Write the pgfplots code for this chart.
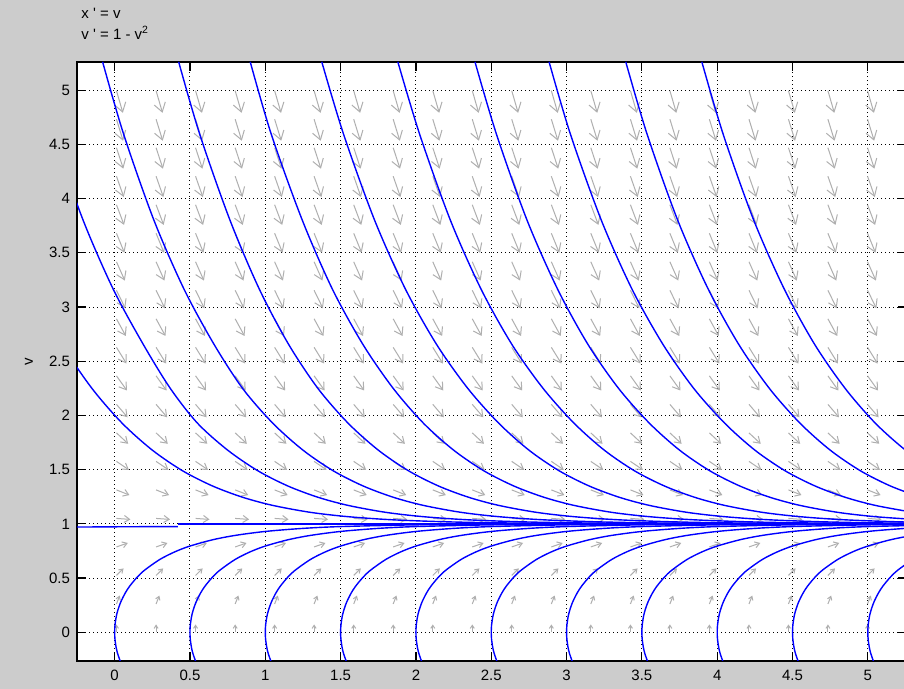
\documentclass[border=0pt]{standalone}
\usepackage{pgfplots}
\pgfplotsset{compat=1.18}
\usepackage{fontspec}
\setmainfont{Liberation Sans}
\usetikzlibrary{arrows.meta}
\definecolor{bg}{RGB}{204,204,204}
\definecolor{fieldgray}{RGB}{175,175,175}
\definecolor{solblue}{RGB}{0,0,255}
\begin{document}
\begin{tikzpicture}
\useasboundingbox (0,0) rectangle (452pt,344.5pt);
\fill[bg] (0,0) rectangle (452pt,344.5pt);
\node[anchor=base west, inner sep=0pt, font=\fontsize{7.5}{9}\selectfont] at (40.5pt,335pt) {x \textquotesingle\ = v};
\node[anchor=base west, inner sep=0pt, font=\fontsize{7.5}{9}\selectfont] at (40.5pt,324.5pt) {v \textquotesingle\ = 1 - v\textsuperscript{2}};
\begin{axis}[
  at={(38.5pt,14pt)}, anchor=south west,
  scale only axis, width=415pt, height=299.5pt,
  xmin=-0.25, xmax=5.26, ymin=-0.265, ymax=5.26,
  axis background/.style={fill=white},
  xtick={0,0.5,1,1.5,2,2.5,3,3.5,4,4.5,5},
  ytick={0,0.5,1,1.5,2,2.5,3,3.5,4,4.5,5},
  xticklabels={0,0.5,1,1.5,2,2.5,3,3.5,4,4.5,5},
  yticklabels={0,0.5,1,1.5,2,2.5,3,3.5,4,4.5,5},
  tick align=inside, major tick length=4.5pt,
  tick style={black, line width=0.6pt},
  axis line style={black, line width=0.75pt},
  grid=major,
  major grid style={black, line width=0.5pt, dash pattern=on 0.5pt off 1.5pt},
  tick label style={font=\fontsize{7.5}{9}\selectfont},
  xticklabel style={yshift=-1pt},
  ylabel={v},
  every axis y label/.style={at={(axis description cs:-0.058,0.5)}, rotate=90, anchor=center, font=\fontsize{7.5}{9}\selectfont},
  clip=true,
]
% ---------- direction field (gray arrows), one row per v level ----------
\pgfplotsset{fld/.style args={#1/#2}{fieldgray, line width=0.5pt, -{Straight Barb[length=#1pt,width=#2pt]}}}
\addplot[fld=1.52/2.0, quiver={u=0.0,v=0.0738}] coordinates {(0.012,-0.002)(0.275,-0.002)(0.537,-0.002)(0.800,-0.002)(1.062,-0.002)(1.324,-0.002)(1.587,-0.002)(1.849,-0.002)(2.112,-0.002)(2.374,-0.002)(2.636,-0.002)(2.899,-0.002)(3.161,-0.002)(3.424,-0.002)(3.686,-0.002)(3.948,-0.002)(4.211,-0.002)(4.473,-0.002)(4.735,-0.002)(4.998,-0.002)};
\addplot[fld=1.71/2.25, quiver={u=0.0217,v=0.0774}] coordinates {(0.012,0.261)(0.275,0.261)(0.537,0.261)(0.800,0.261)(1.062,0.261)(1.324,0.261)(1.587,0.261)(1.849,0.261)(2.112,0.261)(2.374,0.261)(2.636,0.261)(2.899,0.261)(3.161,0.261)(3.424,0.261)(3.686,0.261)(3.948,0.261)(4.211,0.261)(4.473,0.261)(4.735,0.261)(4.998,0.261)};
\addplot[fld=1.9/2.5, quiver={u=0.0470,v=0.0651}] coordinates {(0.012,0.524)(0.275,0.524)(0.537,0.524)(0.800,0.524)(1.062,0.524)(1.324,0.524)(1.587,0.524)(1.849,0.524)(2.112,0.524)(2.374,0.524)(2.636,0.524)(2.899,0.524)(3.161,0.524)(3.424,0.524)(3.686,0.524)(3.948,0.524)(4.211,0.524)(4.473,0.524)(4.735,0.524)(4.998,0.524)};
\addplot[fld=2.28/3.0, quiver={u=0.0752,v=0.0364}] coordinates {(0.012,0.787)(0.275,0.787)(0.537,0.787)(0.800,0.787)(1.062,0.787)(1.324,0.787)(1.587,0.787)(1.849,0.787)(2.112,0.787)(2.374,0.787)(2.636,0.787)(2.899,0.787)(3.161,0.787)(3.424,0.787)(3.686,0.787)(3.948,0.787)(4.211,0.787)(4.473,0.787)(4.735,0.787)(4.998,0.787)};
\addplot[fld=2.66/3.5, quiver={u=0.0927,v=-0.0091}] coordinates {(0.012,1.050)(0.275,1.050)(0.537,1.050)(0.800,1.050)(1.062,1.050)(1.324,1.050)(1.587,1.050)(1.849,1.050)(2.112,1.050)(2.374,1.050)(2.636,1.050)(2.899,1.050)(3.161,1.050)(3.424,1.050)(3.686,1.050)(3.948,1.050)(4.211,1.050)(4.473,1.050)(4.735,1.050)(4.998,1.050)};
\addplot[fld=2.66/3.5, quiver={u=0.0864,v=-0.0477}] coordinates {(0.012,1.313)(0.275,1.313)(0.537,1.313)(0.800,1.313)(1.062,1.313)(1.324,1.313)(1.587,1.313)(1.849,1.313)(2.112,1.313)(2.374,1.313)(2.636,1.313)(2.899,1.313)(3.161,1.313)(3.424,1.313)(3.686,1.313)(3.948,1.313)(4.211,1.313)(4.473,1.313)(4.735,1.313)(4.998,1.313)};
\addplot[fld=2.85/3.75, quiver={u=0.0824,v=-0.0776}] coordinates {(0.012,1.576)(0.275,1.576)(0.537,1.576)(0.800,1.576)(1.062,1.576)(1.324,1.576)(1.587,1.576)(1.849,1.576)(2.112,1.576)(2.374,1.576)(2.636,1.576)(2.899,1.576)(3.161,1.576)(3.424,1.576)(3.686,1.576)(3.948,1.576)(4.211,1.576)(4.473,1.576)(4.735,1.576)(4.998,1.576)};
\addplot[fld=3.04/4.0, quiver={u=0.0777,v=-0.1006}] coordinates {(0.012,1.839)(0.275,1.839)(0.537,1.839)(0.800,1.839)(1.062,1.839)(1.324,1.839)(1.587,1.839)(1.849,1.839)(2.112,1.839)(2.374,1.839)(2.636,1.839)(2.899,1.839)(3.161,1.839)(3.424,1.839)(3.686,1.839)(3.948,1.839)(4.211,1.839)(4.473,1.839)(4.735,1.839)(4.998,1.839)};
\addplot[fld=3.23/4.25, quiver={u=0.0733,v=-0.1192}] coordinates {(0.012,2.102)(0.275,2.102)(0.537,2.102)(0.800,2.102)(1.062,2.102)(1.324,2.102)(1.587,2.102)(1.849,2.102)(2.112,2.102)(2.374,2.102)(2.636,2.102)(2.899,2.102)(3.161,2.102)(3.424,2.102)(3.686,2.102)(3.948,2.102)(4.211,2.102)(4.473,2.102)(4.735,2.102)(4.998,2.102)};
\addplot[fld=3.42/4.5, quiver={u=0.0695,v=-0.1350}] coordinates {(0.012,2.365)(0.275,2.365)(0.537,2.365)(0.800,2.365)(1.062,2.365)(1.324,2.365)(1.587,2.365)(1.849,2.365)(2.112,2.365)(2.374,2.365)(2.636,2.365)(2.899,2.365)(3.161,2.365)(3.424,2.365)(3.686,2.365)(3.948,2.365)(4.211,2.365)(4.473,2.365)(4.735,2.365)(4.998,2.365)};
\addplot[fld=3.61/4.75, quiver={u=0.0663,v=-0.1491}] coordinates {(0.012,2.628)(0.275,2.628)(0.537,2.628)(0.800,2.628)(1.062,2.628)(1.324,2.628)(1.587,2.628)(1.849,2.628)(2.112,2.628)(2.374,2.628)(2.636,2.628)(2.899,2.628)(3.161,2.628)(3.424,2.628)(3.686,2.628)(3.948,2.628)(4.211,2.628)(4.473,2.628)(4.735,2.628)(4.998,2.628)};
\addplot[fld=3.7/4.9, quiver={u=0.0620,v=-0.1579}] coordinates {(0.012,2.891)(0.275,2.891)(0.537,2.891)(0.800,2.891)(1.062,2.891)(1.324,2.891)(1.587,2.891)(1.849,2.891)(2.112,2.891)(2.374,2.891)(2.636,2.891)(2.899,2.891)(3.161,2.891)(3.424,2.891)(3.686,2.891)(3.948,2.891)(4.211,2.891)(4.473,2.891)(4.735,2.891)(4.998,2.891)};
\addplot[fld=3.8/5.0, quiver={u=0.0584,v=-0.1657}] coordinates {(0.012,3.154)(0.275,3.154)(0.537,3.154)(0.800,3.154)(1.062,3.154)(1.324,3.154)(1.587,3.154)(1.849,3.154)(2.112,3.154)(2.374,3.154)(2.636,3.154)(2.899,3.154)(3.161,3.154)(3.424,3.154)(3.686,3.154)(3.948,3.154)(4.211,3.154)(4.473,3.154)(4.735,3.154)(4.998,3.154)};
\addplot[fld=3.9/5.1, quiver={u=0.0553,v=-0.1728}] coordinates {(0.012,3.417)(0.275,3.417)(0.537,3.417)(0.800,3.417)(1.062,3.417)(1.324,3.417)(1.587,3.417)(1.849,3.417)(2.112,3.417)(2.374,3.417)(2.636,3.417)(2.899,3.417)(3.161,3.417)(3.424,3.417)(3.686,3.417)(3.948,3.417)(4.211,3.417)(4.473,3.417)(4.735,3.417)(4.998,3.417)};
\addplot[fld=4.0/5.25, quiver={u=0.0526,v=-0.1794}] coordinates {(0.012,3.680)(0.275,3.680)(0.537,3.680)(0.800,3.680)(1.062,3.680)(1.324,3.680)(1.587,3.680)(1.849,3.680)(2.112,3.680)(2.374,3.680)(2.636,3.680)(2.899,3.680)(3.161,3.680)(3.424,3.680)(3.686,3.680)(3.948,3.680)(4.211,3.680)(4.473,3.680)(4.735,3.680)(4.998,3.680)};
\addplot[fld=4.1/5.4, quiver={u=0.0503,v=-0.1856}] coordinates {(0.012,3.943)(0.275,3.943)(0.537,3.943)(0.800,3.943)(1.062,3.943)(1.324,3.943)(1.587,3.943)(1.849,3.943)(2.112,3.943)(2.374,3.943)(2.636,3.943)(2.899,3.943)(3.161,3.943)(3.424,3.943)(3.686,3.943)(3.948,3.943)(4.211,3.943)(4.473,3.943)(4.735,3.943)(4.998,3.943)};
\addplot[fld=4.2/5.5, quiver={u=0.0483,v=-0.1915}] coordinates {(0.012,4.206)(0.275,4.206)(0.537,4.206)(0.800,4.206)(1.062,4.206)(1.324,4.206)(1.587,4.206)(1.849,4.206)(2.112,4.206)(2.374,4.206)(2.636,4.206)(2.899,4.206)(3.161,4.206)(3.424,4.206)(3.686,4.206)(3.948,4.206)(4.211,4.206)(4.473,4.206)(4.735,4.206)(4.998,4.206)};
\addplot[fld=4.2/5.5, quiver={u=0.0454,v=-0.1929}] coordinates {(0.012,4.469)(0.275,4.469)(0.537,4.469)(0.800,4.469)(1.062,4.469)(1.324,4.469)(1.587,4.469)(1.849,4.469)(2.112,4.469)(2.374,4.469)(2.636,4.469)(2.899,4.469)(3.161,4.469)(3.424,4.469)(3.686,4.469)(3.948,4.469)(4.211,4.469)(4.473,4.469)(4.735,4.469)(4.998,4.469)};
\addplot[fld=4.3/5.6, quiver={u=0.0439,v=-0.1984}] coordinates {(0.012,4.732)(0.275,4.732)(0.537,4.732)(0.800,4.732)(1.062,4.732)(1.324,4.732)(1.587,4.732)(1.849,4.732)(2.112,4.732)(2.374,4.732)(2.636,4.732)(2.899,4.732)(3.161,4.732)(3.424,4.732)(3.686,4.732)(3.948,4.732)(4.211,4.732)(4.473,4.732)(4.735,4.732)(4.998,4.732)};
\addplot[fld=4.4/5.75, quiver={u=0.0425,v=-0.2038}] coordinates {(0.012,4.995)(0.275,4.995)(0.537,4.995)(0.800,4.995)(1.062,4.995)(1.324,4.995)(1.587,4.995)(1.849,4.995)(2.112,4.995)(2.374,4.995)(2.636,4.995)(2.899,4.995)(3.161,4.995)(3.424,4.995)(3.686,4.995)(3.948,4.995)(4.211,4.995)(4.473,4.995)(4.735,4.995)(4.998,4.995)};
% ---------- solution curves ----------
\pgfplotsset{sol/.style={solblue, line width=0.7pt, smooth, no marks}}
% upper family (v > 1), through (0.5k, 2)
\addplot[sol] coordinates {(-1.092,5.261)(-0.95,4.592)(-0.75,3.803)(-0.55,3.166)(-0.35,2.655)(-0.15,2.248)(0.05,1.928)(0.25,1.680)(0.45,1.490)(0.65,1.349)(0.85,1.245)(1.05,1.170)(1.30,1.106)(1.55,1.066)(1.85,1.037)(2.25,1.017)(2.75,1.006)(3.55,1.001)(5.55,1.000)};
\addplot[sol] coordinates {(-0.552,5.261)(-0.41,4.592)(-0.21,3.803)(-0.01,3.166)(0.19,2.655)(0.37,2.248)(0.55,1.928)(0.75,1.680)(0.95,1.490)(1.15,1.349)(1.35,1.245)(1.55,1.170)(1.80,1.106)(2.05,1.066)(2.35,1.037)(2.75,1.017)(3.25,1.006)(4.05,1.001)(6.05,1.000)};
\addplot[sol] coordinates {(-0.080,5.261)(0.06,4.592)(0.26,3.803)(0.46,3.166)(0.66,2.655)(0.85,2.248)(1.05,1.928)(1.25,1.680)(1.45,1.490)(1.65,1.349)(1.85,1.245)(2.05,1.170)(2.30,1.106)(2.55,1.066)(2.85,1.037)(3.25,1.017)(3.75,1.006)(4.55,1.001)(6.55,1.000)};
\addplot[sol] coordinates {(0.425,5.261)(0.565,4.592)(0.765,3.803)(0.96,3.166)(1.155,2.655)(1.35,2.248)(1.55,1.928)(1.75,1.680)(1.95,1.490)(2.15,1.349)(2.35,1.245)(2.55,1.170)(2.80,1.106)(3.05,1.066)(3.35,1.037)(3.75,1.017)(4.25,1.006)(5.05,1.001)(7.05,1.000)};
\addplot[sol] coordinates {(0.900,5.261)(1.04,4.592)(1.245,3.803)(1.445,3.166)(1.648,2.655)(1.85,2.248)(2.05,1.928)(2.25,1.680)(2.45,1.490)(2.65,1.349)(2.85,1.245)(3.05,1.170)(3.30,1.106)(3.55,1.066)(3.85,1.037)(4.25,1.017)(4.75,1.006)(5.55,1.001)(7.55,1.000)};
\addplot[sol] coordinates {(1.375,5.261)(1.52,4.592)(1.725,3.803)(1.93,3.166)(2.137,2.655)(2.345,2.248)(2.55,1.928)(2.75,1.680)(2.95,1.490)(3.15,1.349)(3.35,1.245)(3.55,1.170)(3.80,1.106)(4.05,1.066)(4.35,1.037)(4.75,1.017)(5.25,1.006)(6.05,1.001)};
\addplot[sol] coordinates {(1.880,5.261)(2.025,4.592)(2.228,3.803)(2.432,3.166)(2.637,2.655)(2.845,2.248)(3.05,1.928)(3.25,1.680)(3.45,1.490)(3.65,1.349)(3.85,1.245)(4.05,1.170)(4.30,1.106)(4.55,1.066)(4.85,1.037)(5.25,1.017)(5.75,1.006)};
\addplot[sol] coordinates {(2.392,5.261)(2.535,4.592)(2.737,3.803)(2.94,3.166)(3.142,2.655)(3.346,2.248)(3.55,1.928)(3.75,1.680)(3.95,1.490)(4.15,1.349)(4.35,1.245)(4.55,1.170)(4.80,1.106)(5.05,1.066)(5.35,1.037)};
\addplot[sol] coordinates {(2.884,5.261)(3.026,4.592)(3.23,3.803)(3.434,3.166)(3.64,2.655)(3.845,2.248)(4.05,1.928)(4.25,1.680)(4.45,1.490)(4.65,1.349)(4.85,1.245)(5.05,1.170)(5.30,1.106)};
\addplot[sol] coordinates {(3.393,5.261)(3.535,4.592)(3.737,3.803)(3.94,3.166)(4.143,2.655)(4.347,2.248)(4.55,1.928)(4.75,1.680)(4.95,1.490)(5.15,1.349)(5.35,1.245)};
\addplot[sol] coordinates {(3.898,5.261)(4.04,4.592)(4.242,3.803)(4.445,3.166)(4.647,2.655)(4.85,2.248)(5.05,1.928)(5.25,1.680)(5.45,1.490)};
% lower family (v < 1), vertical tangent at (0.5k, 0)
\addplot[sol] coordinates {(0.05,-0.3085)(0.04,-0.2773)(0.02,-0.198)(0.01,-0.1407)(0.002,-0.0632)(0,0)(0.002,0.0632)(0.01,0.1407)(0.02,0.198)(0.04,0.2773)(0.07,0.3614)(0.1,0.4258)(0.15,0.5091)(0.2,0.5742)(0.3,0.6717)(0.4,0.7421)(0.5,0.7951)(0.65,0.8529)(0.8,0.8934)(1.0,0.9299)(1.25,0.9581)(1.5,0.9748)(2.0,0.9908)(2.5,0.9966)(3.0,0.9988)(5.5,1.0)};
\addplot[sol] coordinates {(0.55,-0.3085)(0.54,-0.2773)(0.52,-0.198)(0.51,-0.1407)(0.502,-0.0632)(0.5,0)(0.502,0.0632)(0.51,0.1407)(0.52,0.198)(0.54,0.2773)(0.57,0.3614)(0.6,0.4258)(0.65,0.5091)(0.7,0.5742)(0.8,0.6717)(0.9,0.7421)(1.0,0.7951)(1.15,0.8529)(1.3,0.8934)(1.5,0.9299)(1.75,0.9581)(2.0,0.9748)(2.5,0.9908)(3.0,0.9966)(3.5,0.9988)(6.0,1.0)};
\addplot[sol] coordinates {(1.05,-0.3085)(1.04,-0.2773)(1.02,-0.198)(1.01,-0.1407)(1.002,-0.0632)(1.0,0)(1.002,0.0632)(1.01,0.1407)(1.02,0.198)(1.04,0.2773)(1.07,0.3614)(1.1,0.4258)(1.15,0.5091)(1.2,0.5742)(1.3,0.6717)(1.4,0.7421)(1.5,0.7951)(1.65,0.8529)(1.8,0.8934)(2.0,0.9299)(2.25,0.9581)(2.5,0.9748)(3.0,0.9908)(3.5,0.9966)(4.0,0.9988)(6.5,1.0)};
\addplot[sol] coordinates {(1.55,-0.3085)(1.54,-0.2773)(1.52,-0.198)(1.51,-0.1407)(1.502,-0.0632)(1.5,0)(1.502,0.0632)(1.51,0.1407)(1.52,0.198)(1.54,0.2773)(1.57,0.3614)(1.6,0.4258)(1.65,0.5091)(1.7,0.5742)(1.8,0.6717)(1.9,0.7421)(2.0,0.7951)(2.15,0.8529)(2.3,0.8934)(2.5,0.9299)(2.75,0.9581)(3.0,0.9748)(3.5,0.9908)(4.0,0.9966)(4.5,0.9988)(7.0,1.0)};
\addplot[sol] coordinates {(2.05,-0.3085)(2.04,-0.2773)(2.02,-0.198)(2.01,-0.1407)(2.002,-0.0632)(2.0,0)(2.002,0.0632)(2.01,0.1407)(2.02,0.198)(2.04,0.2773)(2.07,0.3614)(2.1,0.4258)(2.15,0.5091)(2.2,0.5742)(2.3,0.6717)(2.4,0.7421)(2.5,0.7951)(2.65,0.8529)(2.8,0.8934)(3.0,0.9299)(3.25,0.9581)(3.5,0.9748)(4.0,0.9908)(4.5,0.9966)(5.0,0.9988)(7.5,1.0)};
\addplot[sol] coordinates {(2.55,-0.3085)(2.54,-0.2773)(2.52,-0.198)(2.51,-0.1407)(2.502,-0.0632)(2.5,0)(2.502,0.0632)(2.51,0.1407)(2.52,0.198)(2.54,0.2773)(2.57,0.3614)(2.6,0.4258)(2.65,0.5091)(2.7,0.5742)(2.8,0.6717)(2.9,0.7421)(3.0,0.7951)(3.15,0.8529)(3.3,0.8934)(3.5,0.9299)(3.75,0.9581)(4.0,0.9748)(4.5,0.9908)(5.0,0.9966)(5.5,0.9988)};
\addplot[sol] coordinates {(3.05,-0.3085)(3.04,-0.2773)(3.02,-0.198)(3.01,-0.1407)(3.002,-0.0632)(3.0,0)(3.002,0.0632)(3.01,0.1407)(3.02,0.198)(3.04,0.2773)(3.07,0.3614)(3.1,0.4258)(3.15,0.5091)(3.2,0.5742)(3.3,0.6717)(3.4,0.7421)(3.5,0.7951)(3.65,0.8529)(3.8,0.8934)(4.0,0.9299)(4.25,0.9581)(4.5,0.9748)(5.0,0.9908)(5.5,0.9966)};
\addplot[sol] coordinates {(3.55,-0.3085)(3.54,-0.2773)(3.52,-0.198)(3.51,-0.1407)(3.502,-0.0632)(3.5,0)(3.502,0.0632)(3.51,0.1407)(3.52,0.198)(3.54,0.2773)(3.57,0.3614)(3.6,0.4258)(3.65,0.5091)(3.7,0.5742)(3.8,0.6717)(3.9,0.7421)(4.0,0.7951)(4.15,0.8529)(4.3,0.8934)(4.5,0.9299)(4.75,0.9581)(5.0,0.9748)(5.5,0.9908)};
\addplot[sol] coordinates {(4.05,-0.3085)(4.04,-0.2773)(4.02,-0.198)(4.01,-0.1407)(4.002,-0.0632)(4.0,0)(4.002,0.0632)(4.01,0.1407)(4.02,0.198)(4.04,0.2773)(4.07,0.3614)(4.1,0.4258)(4.15,0.5091)(4.2,0.5742)(4.3,0.6717)(4.4,0.7421)(4.5,0.7951)(4.65,0.8529)(4.8,0.8934)(5.0,0.9299)(5.25,0.9581)(5.5,0.9748)};
\addplot[sol] coordinates {(4.55,-0.3085)(4.54,-0.2773)(4.52,-0.198)(4.51,-0.1407)(4.502,-0.0632)(4.5,0)(4.502,0.0632)(4.51,0.1407)(4.52,0.198)(4.54,0.2773)(4.57,0.3614)(4.6,0.4258)(4.65,0.5091)(4.7,0.5742)(4.8,0.6717)(4.9,0.7421)(5.0,0.7951)(5.15,0.8529)(5.3,0.8934)(5.5,0.9299)};
\addplot[sol] coordinates {(5.05,-0.3085)(5.04,-0.2773)(5.02,-0.198)(5.01,-0.1407)(5.002,-0.0632)(5.0,0)(5.002,0.0632)(5.01,0.1407)(5.02,0.198)(5.04,0.2773)(5.07,0.3614)(5.1,0.4258)(5.15,0.5091)(5.2,0.5742)(5.3,0.6717)(5.4,0.7421)};
% near-equilibrium orbit at the left and the equilibrium line v = 1
\addplot[sol] coordinates {(-0.30,0.970)(0.05,0.973)(0.42,0.975)};
\addplot[solblue, line width=0.7pt, no marks] coordinates {(0.42,1.0)(5.4,1.0)};
\end{axis}
\end{tikzpicture}
\end{document}
